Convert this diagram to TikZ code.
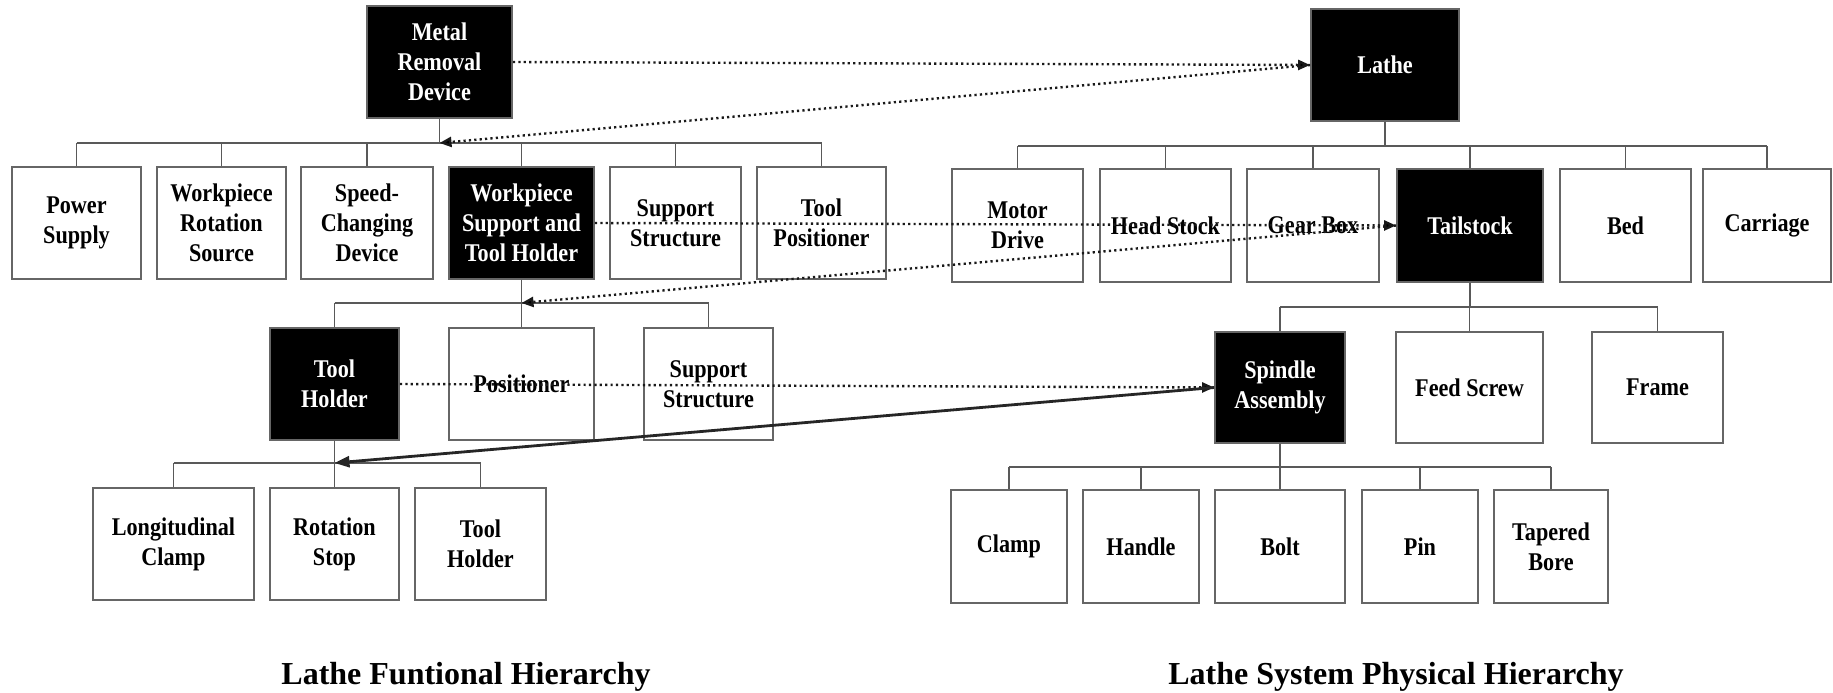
\documentclass[tikz,border=0pt]{standalone}
\usepackage{fontspec}
\setmainfont{Liberation Serif}
\newfontfamily\boxfont[FakeStretch=0.87]{Liberation Serif}
\usetikzlibrary{arrows.meta}
\begin{document}
\begin{tikzpicture}[x=1pt,y=-1pt,
  box/.style={draw=black!60, line width=1.8pt, fill=white, inner sep=0pt, align=center,
    font=\boxfont\fontsize{25.5}{30}\selectfont\bfseries},
  dark/.style={box, fill=black, text=white},
  tree/.style={draw=black!65, line width=1.7pt},
  dotarrow/.style={line width=2.4pt, dash pattern=on 2.2pt off 3.2pt, black!90,
    -{Triangle[length=12pt,width=10pt,fill=black]}},
  solidarrow/.style={line width=2.8pt, black!85, -{Triangle[length=15pt,width=11pt]}},
  caption/.style={font=\fontsize{32}{38}\selectfont\bfseries, anchor=base}
]
\useasboundingbox (0,0) rectangle (1833,693);

% ---------- functional hierarchy ----------
\node[dark, minimum width=145, minimum height=112] (mrd) at (439.5,62) {Metal\\Removal\\Device};

\node[box, minimum width=129, minimum height=112] (ps)  at (76.5,223)  {Power\\Supply};
\node[box, minimum width=129, minimum height=112] (wrs) at (221.5,223) {Workpiece\\Rotation\\Source};
\node[box, minimum width=132, minimum height=112] (scd) at (367,223)   {Speed-\\Changing\\Device};
\node[dark, minimum width=145, minimum height=112] (wst) at (521.5,223) {Workpiece\\Support and\\Tool Holder};
\node[box, minimum width=131, minimum height=112] (ssa) at (675.5,223) {Support\\Structure};
\node[box, minimum width=129, minimum height=112] (tp)  at (821.5,223) {Tool\\Positioner};

\node[dark, minimum width=129, minimum height=112] (th)  at (334.5,384) {Tool\\Holder};
\node[box, minimum width=145, minimum height=112] (pos) at (521.5,384) {Positioner};
\node[box, minimum width=129, minimum height=112] (ssb) at (708.5,384) {Support\\Structure};

\node[box, minimum width=161, minimum height=112] (lc)  at (173.5,544) {Longitudinal\\Clamp};
\node[box, minimum width=129, minimum height=112] (rs)  at (334.5,544) {Rotation\\Stop};
\node[box, minimum width=131, minimum height=112] (thb) at (480.5,544) {Tool\\Holder};

% ---------- physical hierarchy ----------
\node[dark, minimum width=148, minimum height=112] (lathe) at (1385,65) {Lathe};

\node[box, minimum width=131, minimum height=113] (md)  at (1017.5,225.5) {Motor\\Drive};
\node[box, minimum width=131, minimum height=113] (hs)  at (1165.5,225.5) {Head Stock};
\node[box, minimum width=132, minimum height=113] (gb)  at (1313,225.5)   {Gear Box};
\node[dark, minimum width=146, minimum height=113] (ts) at (1470,225.5)   {Tailstock};
\node[box, minimum width=131, minimum height=113] (bed) at (1625.5,225.5) {Bed};
\node[box, minimum width=128, minimum height=113] (car) at (1767,225.5)   {Carriage};

\node[dark, minimum width=130, minimum height=111] (sa) at (1280,387.5) {Spindle\\Assembly};
\node[box, minimum width=147, minimum height=111] (fs)  at (1469.5,387.5) {Feed Screw};
\node[box, minimum width=131, minimum height=111] (fr)  at (1657.5,387.5) {Frame};

\node[box, minimum width=116, minimum height=113] (cl)  at (1009,546.5) {Clamp};
\node[box, minimum width=116, minimum height=113] (ha)  at (1141,546.5) {Handle};
\node[box, minimum width=130, minimum height=113] (bo)  at (1280,546.5) {Bolt};
\node[box, minimum width=116, minimum height=113] (pin) at (1420,546.5) {Pin};
\node[box, minimum width=114, minimum height=113] (tb)  at (1551,546.5) {Tapered\\Bore};

% ---------- tree buses ----------
\coordinate (b1) at (439.5,143);
\coordinate (b2) at (521.5,303);
\coordinate (b3) at (334.5,463);
\coordinate (b4) at (1385,146);
\coordinate (b5) at (1470,307);
\coordinate (b6) at (1280,467);

\draw[tree] (mrd.south) -- (b1);
\draw[tree] (ps.north |- b1) -- (tp.north |- b1);
\foreach \c in {ps,wrs,scd,wst,ssa,tp} \draw[tree] (\c.north) -- (\c.north |- b1);

\draw[tree] (wst.south) -- (b2);
\draw[tree] (th.north |- b2) -- (ssb.north |- b2);
\foreach \c in {th,pos,ssb} \draw[tree] (\c.north) -- (\c.north |- b2);

\draw[tree] (th.south) -- (b3);
\draw[tree] (lc.north |- b3) -- (thb.north |- b3);
\foreach \c in {lc,rs,thb} \draw[tree] (\c.north) -- (\c.north |- b3);

\draw[tree] (lathe.south) -- (b4);
\draw[tree] (md.north |- b4) -- (car.north |- b4);
\foreach \c in {md,hs,gb,ts,bed,car} \draw[tree] (\c.north) -- (\c.north |- b4);

\draw[tree] (ts.south) -- (b5);
\draw[tree] (sa.north |- b5) -- (fr.north |- b5);
\foreach \c in {sa,fs,fr} \draw[tree] (\c.north) -- (\c.north |- b5);

\draw[tree] (sa.south) -- (b6);
\draw[tree] (cl.north |- b6) -- (tb.north |- b6);
\foreach \c in {cl,ha,bo,pin,tb} \draw[tree] (\c.north) -- (\c.north |- b6);

% ---------- cross links ----------
\draw[dotarrow] (mrd.east) -- (lathe.west);
\draw[dotarrow] (lathe.west) -- (b1);
\draw[dotarrow] (wst.east) -- (ts.west);
\draw[dotarrow] (ts.west) -- (b2);
\draw[dotarrow] (th.east) -- (sa.west);
\draw[solidarrow] (sa.west) -- (b3);

% ---------- captions ----------
\node[caption] (cap1) at (466,684) {Lathe Funtional Hierarchy};
\node[caption] (cap2) at (1396,684) {Lathe System Physical Hierarchy};
\end{tikzpicture}
\end{document}
